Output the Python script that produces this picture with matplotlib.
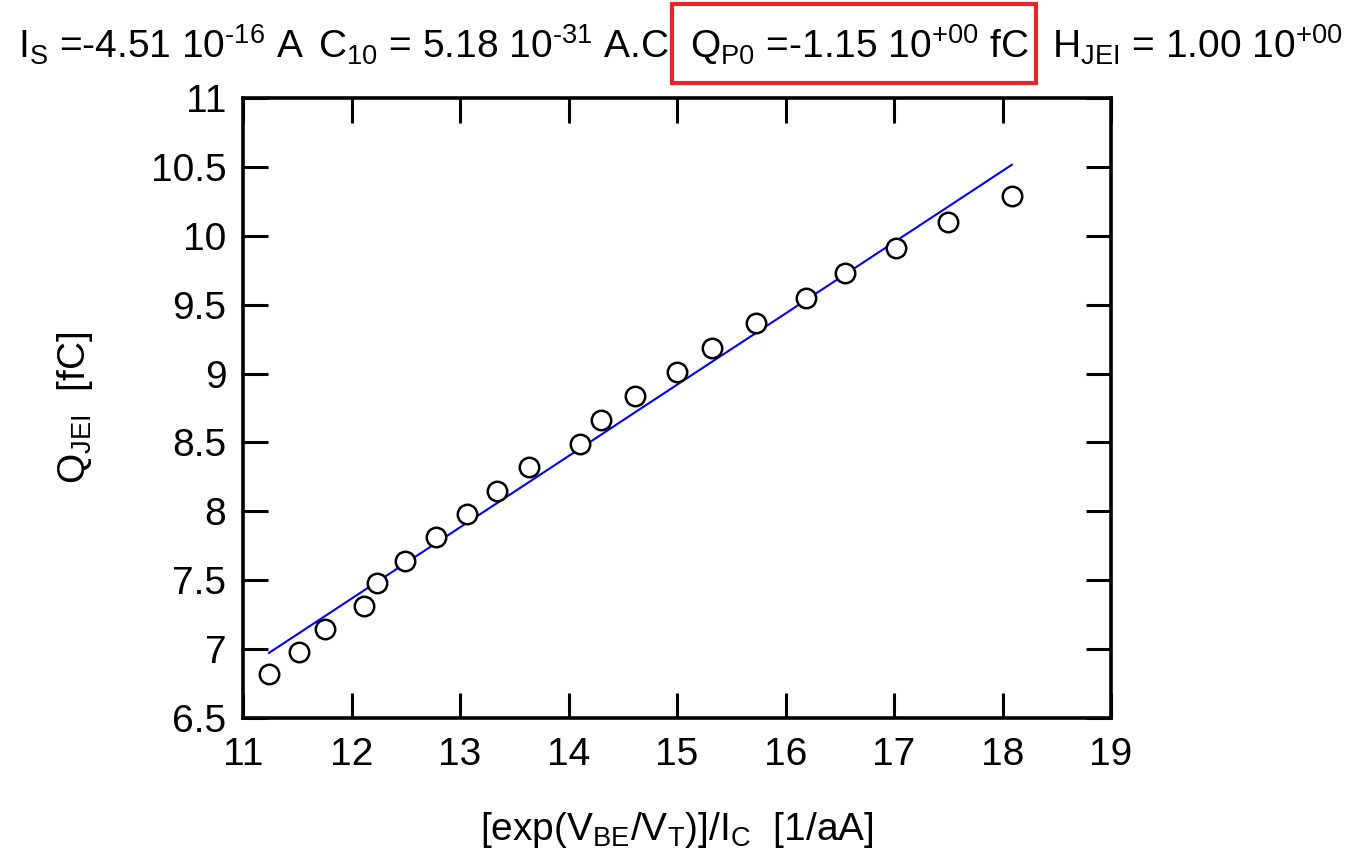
import matplotlib
matplotlib.use('Agg')
import matplotlib.pyplot as plt
from matplotlib.patches import Rectangle

plt.rcParams['font.family'] = ['Liberation Sans', 'DejaVu Sans']
plt.rcParams['mathtext.fontset'] = 'custom'
plt.rcParams['mathtext.rm'] = 'Liberation Sans'
plt.rcParams['mathtext.it'] = 'Liberation Sans'
plt.rcParams['mathtext.default'] = 'rm'

#-------------------------------------------------------------------------------
#DATA

#measured points, x in 1/aA, Q_JEI in fC
xmeas = [11.240, 11.513, 11.756, 12.115, 12.238, 12.490, 12.779, 13.062,
         13.338, 13.633, 14.106, 14.302, 14.616, 14.997, 15.325, 15.725,
         16.189, 16.544, 17.021, 17.495, 18.085]
qmeas = [6.819, 6.981, 7.148, 7.311, 7.477, 7.641, 7.811, 7.978,
         8.149, 8.319, 8.491, 8.663, 8.839, 9.011, 9.187, 9.366,
         9.548, 9.727, 9.913, 10.097, 10.288]

#model curve at the same x values
qfit = [6.973, 7.114, 7.240, 7.426, 7.489, 7.620, 7.769, 7.916,
        8.058, 8.211, 8.456, 8.557, 8.720, 8.917, 9.087, 9.293,
        9.534, 9.717, 9.964, 10.209, 10.515]

xticks = [11, 12, 13, 14, 15, 16, 17, 18, 19]
yticks = [6.5, 7, 7.5, 8, 8.5, 9, 9.5, 10, 10.5, 11]
yticklabels = ['6.5', '7', '7.5', '8', '8.5', '9', '9.5', '10', '10.5', '11']

#extracted parameters for the header
params = [r'$I_S$ =-4.51 10$^{\text{-16}}$ A',
          r'$C_{10}$ = 5.18 10$^{\text{-31}}$ A.C',
          r'$Q_{P0}$ =-1.15 10$^{+00}$ fC',
          r'$H_{JEI}$ = 1.00 10$^{+00}$']

#-------------------------------------------------------------------------------
#MAIN

fs = 28
fig = plt.figure(figsize=(13.46, 8.5), dpi=100)
ax = fig.add_axes([243/1346, 1 - 718/850, (1111 - 243)/1346, (718 - 98)/850])

ax.plot(xmeas, qfit, color='#0000ff', lw=1.5, zorder=2)
ax.plot(xmeas, qmeas, 'o', ms=14, mfc='white', mec='black', mew=1.8, zorder=3)

ax.set_xlim(11, 19)
ax.set_ylim(6.5, 11)
ax.set_xticks(xticks)
ax.set_xticklabels([str(t) for t in xticks])
ax.set_yticks(yticks)
ax.set_yticklabels(yticklabels)
ax.tick_params(direction='in', length=18, width=2.2, labelsize=fs,
               top=True, right=True)
ax.tick_params(axis='x', pad=14)
ax.tick_params(axis='y', pad=12)
for s in ax.spines.values():
    s.set_linewidth(2.6)

ax.set_xlabel(r'[exp($V_{BE}$/$V_T$)]/$I_C$  [1/aA]', fontsize=fs, labelpad=26)
ax.set_ylabel(r'$Q_{JEI}$  [fC]', fontsize=fs, labelpad=40)

#header with boxed Q_P0
xs = [18, 318, 690, 1052]
for x, s in zip(xs, params):
    fig.text(x/1346, 1 - 45/850, s, fontsize=fs, ha='left', va='center')
fig.patches.append(Rectangle((672/1346, 1 - 83/850), (1036 - 672)/1346, 79/850,
                             transform=fig.transFigure, fill=False,
                             edgecolor='#e8252a', lw=3))

fig.savefig('out.png', dpi=100)
